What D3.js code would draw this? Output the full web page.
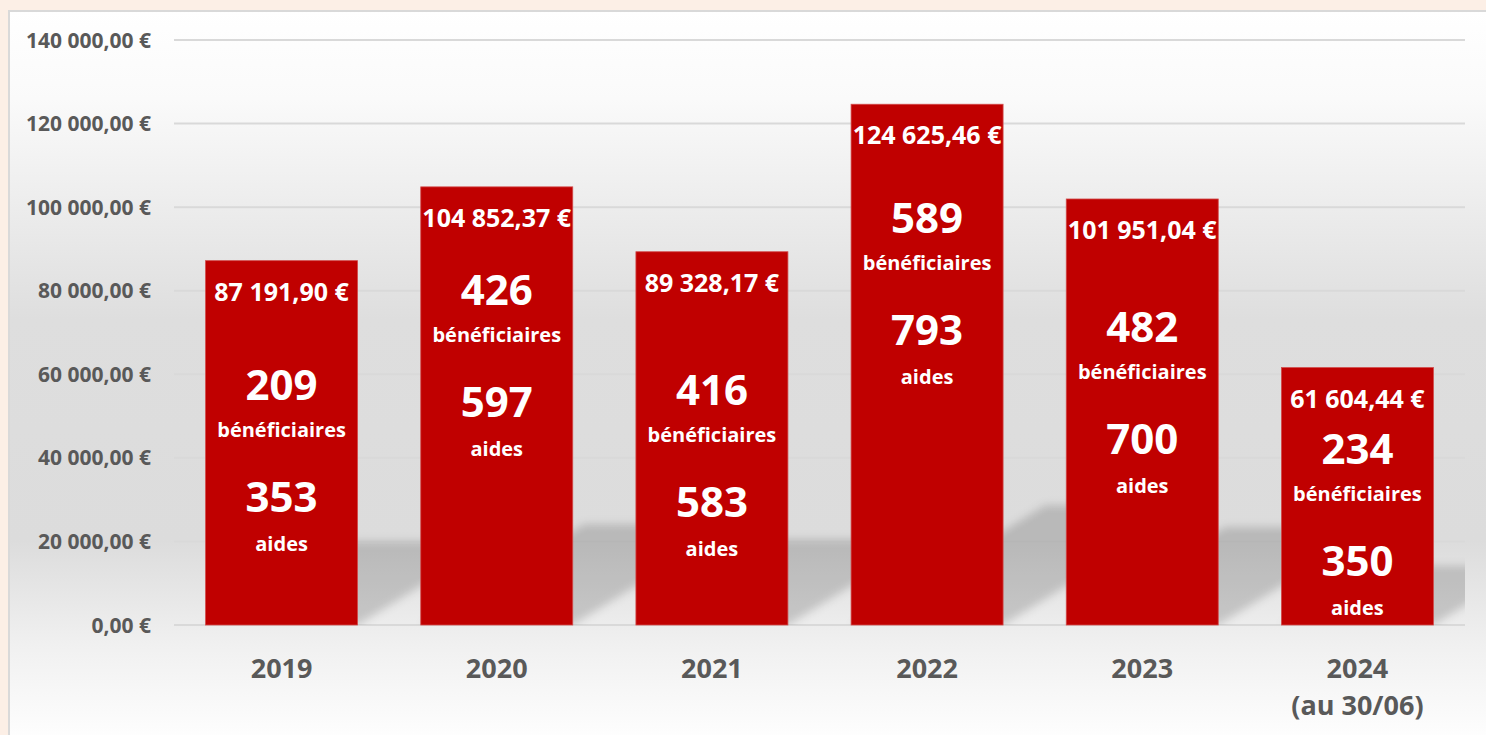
<!DOCTYPE html>
<html>
<head>
<meta charset="utf-8">
<script src="https://cdn.jsdelivr.net/npm/d3@7"></script>
<style>
  body { margin: 0; background: #fcefe6; overflow: hidden; }
  svg { display: block; }
</style>
</head>
<body>
<div id="chart"></div>
<script>
const years = ["2019", "2020", "2021", "2022", "2023", "2024"];
const yearNotes = ["", "", "", "", "", "(au 30/06)"];
const amounts = [87191.90, 104852.37, 89328.17, 124625.46, 101951.04, 61604.44];
const beneficiaires = [209, 426, 416, 589, 482, 234];
const aides = [353, 597, 583, 793, 700, 350];
const yTicks = [0, 20000, 40000, 60000, 80000, 100000, 120000, 140000];

// level (in euros) where each bar's count block is centred
const blockLevel = [57400, 80200, 56200, 97400, 71300, 42100];

const config = { width: 1486, height: 735, left: 174, right: 1465, top: 40, bottom: 625 };

const fr = d3.formatLocale({ decimal: ",", thousands: " ", grouping: [3], currency: ["", " €"] });
const euro = fr.format("$,.2f");

const svg = d3.select("#chart")
  .append("svg")
  .attr("width", config.width)
  .attr("height", config.height);

const defs = svg.append("defs");

const bg = defs.append("linearGradient")
  .attr("id", "bg")
  .attr("x1", 0).attr("y1", 0).attr("x2", 0).attr("y2", 1);
[[0, "#ffffff"], [0.12, "#fafafa"], [0.42, "#dedede"], [0.72, "#dcdcdc"], [0.86, "#f0f0f0"], [1, "#ffffff"]]
  .forEach(s => bg.append("stop").attr("offset", s[0]).attr("stop-color", s[1]));

defs.append("filter")
  .attr("id", "blur")
  .attr("x", "-20%").attr("y", "-50%").attr("width", "140%").attr("height", "200%")
  .append("feGaussianBlur")
  .attr("stdDeviation", 4);

defs.append("clipPath")
  .attr("id", "plotclip")
  .append("rect")
  .attr("x", config.left)
  .attr("y", config.top)
  .attr("width", config.right - config.left)
  .attr("height", config.bottom - config.top);

// card
svg.append("rect")
  .attr("x", 9)
  .attr("y", 11)
  .attr("width", config.width)
  .attr("height", config.height)
  .attr("fill", "url(#bg)")
  .attr("stroke", "#d9d9d9")
  .attr("stroke-width", 2);

const xScale = d3.scaleBand()
  .domain(years)
  .range([config.left, config.right])
  .paddingInner(0.2936)
  .paddingOuter(0.1468);

const yScale = d3.scaleLinear()
  .domain([0, 140000])
  .range([config.bottom, config.top]);

// gridlines
svg.append("g")
  .selectAll("line")
  .data(yTicks)
  .join("line")
  .attr("x1", config.left)
  .attr("x2", config.right)
  .attr("y1", d => yScale(d))
  .attr("y2", d => yScale(d))
  .attr("stroke", "#d9d9d9")
  .attr("stroke-width", 2);

// y labels
svg.append("g")
  .selectAll("text")
  .data(yTicks)
  .join("text")
  .attr("x", 151)
  .attr("y", d => yScale(d) + 7.5)
  .attr("text-anchor", "end")
  .attr("font-family", "Open Sans")
  .attr("font-weight", "bold")
  .attr("font-size", 21)
  .attr("fill", "#595959")
  .text(d => euro(d));

const data = years.map((y, i) => ({
  year: y, note: yearNotes[i], amount: amounts[i],
  ben: beneficiaires[i], aides: aides[i], level: blockLevel[i]
}));

// floor shadows cast by the bars
const shear = 0.23, skew = 1.62;
svg.append("g")
  .attr("clip-path", "url(#plotclip)")
  .append("g")
  .attr("filter", "url(#blur)")
  .selectAll("path")
  .data(data)
  .join("path")
  .attr("d", d => {
    const x0 = xScale(d.year), x1 = x0 + xScale.bandwidth();
    const h = (yScale(0) - yScale(d.amount)) * shear;
    const dx = h * skew;
    const b = yScale(0);
    return `M${x0},${b}L${x1},${b}L${x1 + dx},${b - h}L${x0 + dx},${b - h}Z`;
  })
  .attr("fill", "#000")
  .attr("fill-opacity", 0.16);

// bars
svg.append("g")
  .selectAll("rect")
  .data(data)
  .join("rect")
  .attr("x", d => xScale(d.year))
  .attr("y", d => yScale(d.amount))
  .attr("width", xScale.bandwidth())
  .attr("height", d => yScale(0) - yScale(d.amount))
  .attr("fill", "#c00000")
  .attr("stroke", "#d24a4a")
  .attr("stroke-width", 0.8);

const labels = svg.append("g")
  .attr("font-family", "Open Sans")
  .attr("font-weight", "bold")
  .attr("fill", "#ffffff")
  .attr("text-anchor", "middle");

const cx = d => xScale(d.year) + xScale.bandwidth() / 2;

labels.selectAll(".amount")
  .data(data)
  .join("text")
  .attr("class", "amount")
  .attr("x", cx)
  .attr("y", d => yScale(d.amount) + 40)
  .attr("font-size", 25)
  .text(d => euro(d.amount));

const blocks = labels.selectAll(".block")
  .data(data)
  .join("g")
  .attr("class", "block")
  .attr("transform", d => `translate(${cx(d)},${yScale(d.level)})`);

blocks.append("text").attr("y", 15).attr("font-size", 42).text(d => d.ben);
blocks.append("text").attr("y", 52).attr("font-size", 20).text("bénéficiaires");
blocks.append("text").attr("y", 127).attr("font-size", 42).text(d => d.aides);
blocks.append("text").attr("y", 166).attr("font-size", 20).text("aides");

// x labels
const xl = svg.append("g")
  .attr("font-family", "Open Sans")
  .attr("font-weight", "bold")
  .attr("fill", "#595959")
  .attr("text-anchor", "middle")
  .attr("font-size", 27);

xl.selectAll(".year")
  .data(data)
  .join("text")
  .attr("class", "year")
  .attr("x", cx)
  .attr("y", 678)
  .text(d => d.year);

xl.selectAll(".note")
  .data(data.filter(d => d.note))
  .join("text")
  .attr("class", "note")
  .attr("x", cx)
  .attr("y", 715)
  .text(d => d.note);
</script>
</body>
</html>
